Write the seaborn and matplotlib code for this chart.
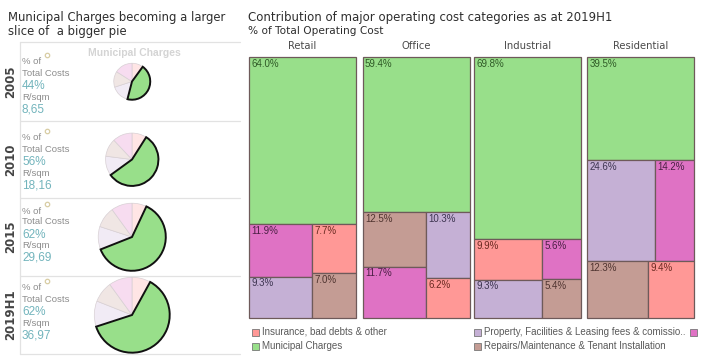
import numpy as np
import matplotlib
matplotlib.use('Agg')
import matplotlib.pyplot as plt
from matplotlib.patches import Rectangle
import seaborn as sns

# ---------------- data ----------------
# left panel (pies)
years = ['2005', '2010', '2015', '2019H1']
municipal_share = [44, 56, 62, 62]
share_labels = ['44%', '56%', '62%', '62%']
rate_values = [8.65, 18.16, 29.69, 36.97]
rate_labels = ['8,65', '18,16', '29,69', '36,97']
pie_insurance = [10, 9, 7, 8]
pie_property = [16, 12, 11, 11]
pie_repairs = [14, 11, 10, 9]
pie_other = [16, 12, 10, 10]

# right panel (treemaps)
sectors = ['Retail', 'Office', 'Industrial', 'Residential']
insurance = [7.7, 6.2, 9.9, 9.4]
property_fees = [9.3, 10.3, 9.3, 24.6]
municipal = [64.0, 59.4, 69.8, 39.5]
repairs = [7.0, 12.5, 5.4, 12.3]
other_costs = [11.9, 11.7, 5.6, 14.2]
legend_labels = ['Insurance, bad debts & other',
                 'Property, Facilities & Leasing fees & comissio..',
                 'Municipal Charges',
                 'Repairs/Maintenance & Tenant Installation']

# ---------------- style ----------------
sns.set_theme(style='white')
plt.rcParams['font.family'] = ['DejaVu Sans']
pal = sns.color_palette('tab20')
C_INS, C_PROP, C_REP = pal[7], pal[9], pal[11]
C_MUN = '#98df8a'
C_OTH = '#df72c4'
TXT_DARK = {'ins': '#6a2a22', 'mun': '#2f5a26', 'prop': '#3d3450', 'rep': '#4f3430', 'oth': '#4a1f44'}

W, H = 703, 360
fig = plt.figure(figsize=(W / 100, H / 100), dpi=100)
bg = fig.add_axes([0, 0, 1, 1])
bg.set_xlim(0, W)
bg.set_ylim(H, 0)
bg.axis('off')

ARIAL = 'Liberation Sans'

# ---------------- left panel ----------------
bg.text(8, 17, 'Municipal Charges becoming a larger', fontsize=8.4, color='#2e2e2e', va='center', ha='left')
bg.text(8, 32, 'slice of  a bigger pie', fontsize=8.4, color='#2e2e2e', va='center', ha='left')
bg.text(134, 53, 'Municipal Charges', fontsize=7.5, color='#d4d4d4', fontweight='bold',
        va='center', ha='center', family=ARIAL)

row_lines = [42, 121, 198, 276, 354]
for y in row_lines:
    bg.plot([20, 240], [y, y], color='#e2e2e2', lw=0.9)
bg.plot([20, 20], [42, 354], color='#e2e2e2', lw=0.9)

text_base = [62, 138, 211, 288]
offsets = [0, 11, 24, 35, 47]
GRAY = '#8c8c8c'
TEAL = '#72b4bc'
for i, yr in enumerate(years):
    top, bot = row_lines[i], row_lines[i + 1]
    cy = (top + bot) / 2
    bg.text(11, cy, yr, rotation=90, fontsize=8.5, fontweight='bold', color='#444444',
            va='center', ha='center')
    b = text_base[i]
    bg.plot([46.5], [b - 7], marker='o', ms=3.2, mfc='white', mec='#d8cda4', mew=0.9)
    bg.text(22, b + offsets[0], '% of', fontsize=6.8, color=GRAY, va='center', family=ARIAL)
    bg.text(22, b + offsets[1], 'Total Costs', fontsize=6.8, color=GRAY, va='center', family=ARIAL)
    bg.text(22, b + offsets[2], share_labels[i], fontsize=8.5, color=TEAL, va='center', family=ARIAL)
    bg.text(22, b + offsets[3], 'R/sqm', fontsize=6.8, color=GRAY, va='center', family=ARIAL)
    bg.text(22, b + offsets[4], rate_labels[i], fontsize=8.5, color=TEAL, va='center', family=ARIAL)

    # pie
    cx = 132
    r = 6.2 * np.sqrt(rate_values[i])
    rr = r * 1.06
    axp = fig.add_axes([(cx - rr) / W, 1 - (cy + rr) / H, 2 * rr / W, 2 * rr / H])
    vals = [pie_insurance[i], municipal_share[i], pie_property[i], pie_repairs[i], pie_other[i]]
    cols = [C_INS, C_MUN, C_PROP, C_REP, C_OTH]
    faint = []
    for c in cols:
        c = np.array(matplotlib.colors.to_rgb(c))
        faint.append(tuple(0.75 + 0.25 * c))
    faint[1] = C_MUN
    wedges, _ = axp.pie(vals, colors=faint, startangle=90, counterclock=False, radius=1,
                        wedgeprops=dict(linewidth=0.5, edgecolor='#d8d0d4'))
    for j, w in enumerate(wedges):
        if j == 1:
            w.set_edgecolor('#111111')
            w.set_linewidth(1.4)
            w.set_zorder(5)
    axp.set_xlim(-1.06, 1.06)
    axp.set_ylim(-1.06, 1.06)
    axp.axis('off')

# ---------------- right panel ----------------
bg.text(248, 17, 'Contribution of major operating cost categories as at 2019H1', fontsize=8.45,
        color='#2e2e2e', va='center', ha='left')
bg.text(248, 31, '% of Total Operating Cost', fontsize=7.6, color='#2e2e2e', va='center', ha='left')

keys = {'ins': insurance, 'prop': property_fees, 'mun': municipal, 'rep': repairs, 'oth': other_costs}
colmap = {'ins': C_INS, 'prop': C_PROP, 'mun': C_MUN, 'rep': C_REP, 'oth': C_OTH}
# layout: split direction of the area under the green block and the groups
layout = [('v', [['oth', 'prop'], ['ins', 'rep']]),
          ('v', [['rep', 'oth'], ['prop', 'ins']]),
          ('v', [['ins', 'prop'], ['oth', 'rep']]),
          ('h', [['prop', 'oth'], ['rep', 'ins']])]

P_TOP, P_BOT, P_W = 57, 318, 107
lefts = [249, 362.5, 474, 587]
EDGE = '#6e5a5a'
for k, sec in enumerate(sectors):
    ax = fig.add_axes([lefts[k] / W, 1 - P_BOT / H, P_W / W, (P_BOT - P_TOP) / H])
    ax.set_xlim(0, 1)
    ax.set_ylim(100, 0)
    ax.axis('off')
    bg.text(lefts[k] + P_W / 2, 46, sec, fontsize=7.2, color='#4a4a4a', ha='center', va='center')
    rects = []
    g = keys['mun'][k]
    rects.append(('mun', 0, 0, 1, g))
    rem = 100 - g
    mode, groups = layout[k]
    sums = [sum(keys[c][k] for c in grp) for grp in groups]
    tot = sum(sums)
    if mode == 'v':
        x0 = 0
        for grp, s in zip(groups, sums):
            w = s / tot
            y0 = g
            for c in grp:
                h = keys[c][k] / s * rem
                rects.append((c, x0, y0, w, h))
                y0 += h
            x0 += w
    else:
        y0 = g
        for grp, s in zip(groups, sums):
            h = s / tot * rem
            x0 = 0
            for c in grp:
                w = keys[c][k] / s
                rects.append((c, x0, y0, w, h))
                x0 += w
            y0 += h
    for c, x, y, w, h in rects:
        ax.bar(x, h, width=w, bottom=y, align='edge', color=colmap[c], edgecolor=EDGE,
               linewidth=0.9, clip_on=False)
        ax.text(x + 0.022, y + 0.6, f'{keys[c][k]:.1f}%', fontsize=7, color=TXT_DARK[c],
                ha='left', va='top', family=ARIAL)

# ---------------- legend ----------------
leg_items = [(252, 332, C_INS, legend_labels[0]),
             (474, 332, C_PROP, legend_labels[1]),
             (690, 332, C_OTH, ''),
             (252, 346, C_MUN, legend_labels[2]),
             (474, 346, C_REP, legend_labels[3])]
for x, y, c, lab in leg_items:
    bg.add_patch(Rectangle((x, y - 3.5), 7, 7, facecolor=c, edgecolor='#777777', lw=0.6))
    if lab:
        bg.text(x + 10, y, lab, fontsize=7, color='#5a5a5a', va='center', ha='left', family=ARIAL)

fig.savefig('out.png', dpi=100)
